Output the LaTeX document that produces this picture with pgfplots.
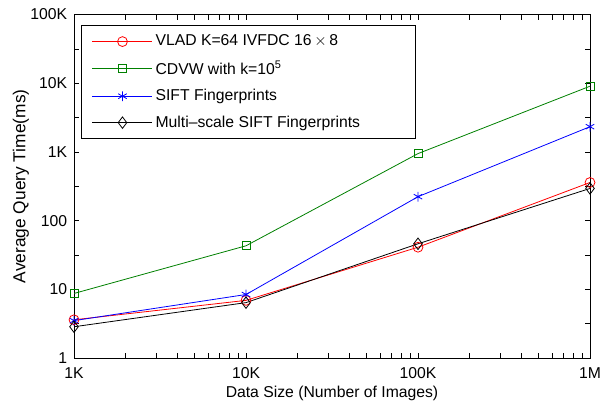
\documentclass[border=0pt]{standalone}
\usepackage{pgfplots}
\pgfplotsset{compat=1.18}
\usepackage{fontspec}
\setmainfont{Liberation Sans}
\definecolor{mgreen}{RGB}{0,128,0}
\begin{document}
\fontsize{11.8pt}{14pt}\selectfont
\begin{tikzpicture}[x=1pt,y=1pt]
\begin{axis}[
  name=ax,
  scale only axis,
  width=387pt, height=257.6pt,
  xmode=log, ymode=log,
  xmin=1000, xmax=1000000,
  ymin=1, ymax=100000,
  xtick={1000,10000,100000,1000000},
  xticklabels={1K,10K,100K,1M},
  ytick={1,10,100,1000,10000,100000},
  yticklabels={1,10,100,1K,10K,100K},
  minor ytick={3.1623,31.623,316.23,3162.3,31623},
  minor xtick={},
  tick align=inside,
  major tick length=4pt,
  minor tick length=4pt,
  tick style={black, line width=0.5pt},
  axis line style={line width=0.6pt},
  xlabel={Data Size (Number of Images)},
  ylabel={Average Query Time(ms)},
  xlabel style={yshift=2.5pt},
  ylabel style={yshift=-7pt, font=\fontsize{13pt}{15pt}\selectfont},
  xticklabel style={yshift=-3pt},
  yticklabel style={xshift=-1pt},
  tick label style={font=\fontsize{11.8pt}{14pt}\selectfont},
  xlabel style={font=\fontsize{11.8pt}{14pt}\selectfont},
  /pgf/number format/assume math mode=true,
  legend cell align=left,
  legend style={at={(0.0136,0.969)}, anchor=north west, draw=black, line width=0.6pt,
    fill=white, font=\fontsize{11.8pt}{14pt}\selectfont, row sep=5.5pt,
    inner xsep=8pt, inner ysep=5pt},
  legend image code/.code={\draw[mark repeat=2,mark phase=2,#1] plot coordinates {(0pt,0pt) (22.5pt,0pt) (45pt,0pt)};},
  every axis plot/.append style={line width=0.6pt},
]
\addplot[color=red, mark=o, mark size=3.7pt] coordinates {
 (1000,3.6) (10000,6.9) (100000,41) (1000000,359)};
\addlegendentry{\makebox[185pt][l]{VLAD K=64 IVFDC 16\,$\times$\,8}}
\addplot[color=mgreen, mark=square, mark size=3pt] coordinates {
 (1000,8.7) (10000,43) (100000,945) (1000000,9050)};
\addlegendentry{CDVW with k=10\textsuperscript{5}}
\addplot[color=blue, mark=asterisk, mark size=3.7pt] coordinates {
 (1000,3.5) (10000,8.4) (100000,223) (1000000,2330)};
\addlegendentry{SIFT Fingerprints}
\addplot[color=black, mark=diamond, mark size=4.3pt] coordinates {
 (1000,2.85) (10000,6.4) (100000,46) (1000000,294)};
\addlegendentry{Multi{\textendash}scale SIFT Fingerprints}
\end{axis}
\pgfresetboundingbox
\path[use as bounding box] ([shift={(-55.5pt,-34.5pt)}]ax.south west) rectangle ([shift={(13.5pt,10.9pt)}]ax.north east);
\end{tikzpicture}
\end{document}
